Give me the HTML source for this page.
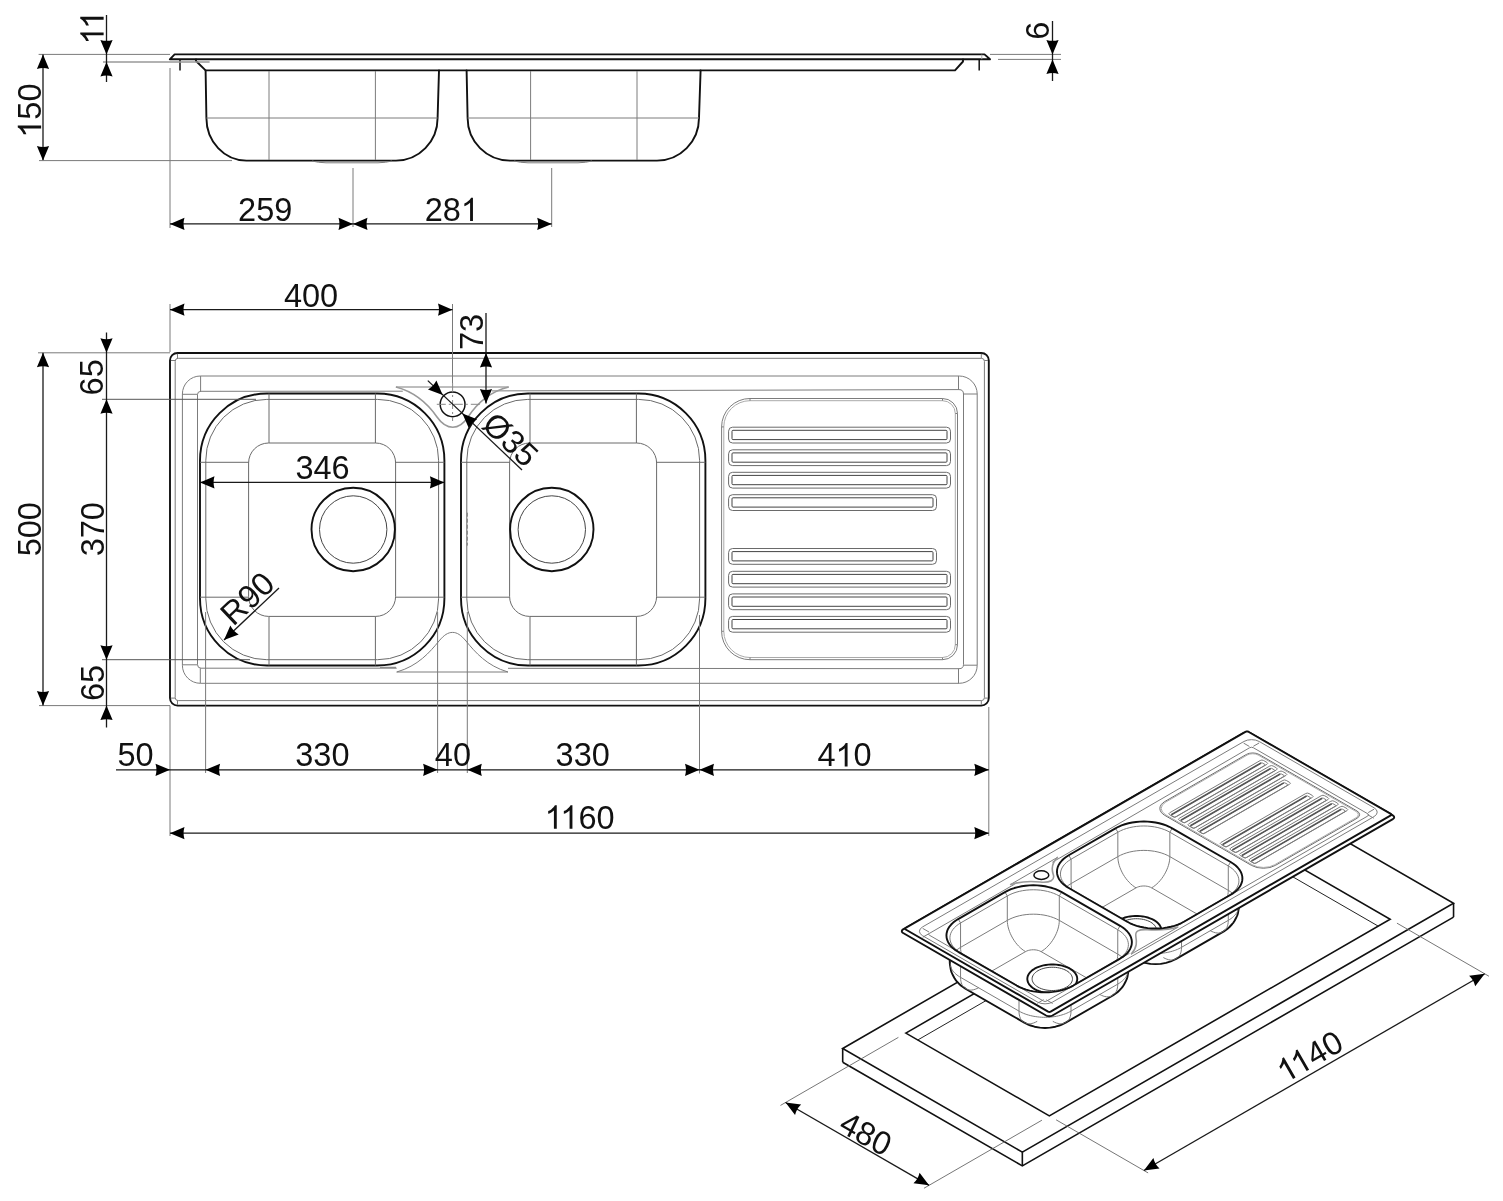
<!DOCTYPE html>
<html><head><meta charset="utf-8"><style>
html,body{margin:0;padding:0;background:#fff;}
svg{display:block;will-change:transform;}
text{font-family:"Liberation Sans",sans-serif;fill:#111;}
.k{fill:none;stroke:#111;stroke-width:1.9;stroke-linejoin:round;stroke-linecap:round;}
.kt{fill:none;stroke:#111;stroke-width:1.5;stroke-linejoin:round;}
.g{fill:none;stroke:#7c7c7c;stroke-width:1;}
.g2{fill:none;stroke:#6a6a6a;stroke-width:1;}
.gd{fill:none;stroke:#444;stroke-width:1;}
.gl{fill:none;stroke:#aaa;stroke-width:1;}
.d{fill:none;stroke:#1a1a1a;stroke-width:1.3;}
.e{fill:none;stroke:#7a7a7a;stroke-width:1;}
.e2{fill:none;stroke:#555;stroke-width:1;}
.e3{fill:none;stroke:#999;stroke-width:1.6;}
.ar{fill:#000;stroke:none;}
.tx{fill:#111;stroke:none;}
.cl{fill:none;stroke:#888;stroke-width:1;stroke-dasharray:9 3 2 3;}
.ik{fill:none;stroke:#111;stroke-width:1.9;stroke-linejoin:round;}
.ikf{fill:#fff;stroke:#111;stroke-width:1.9;stroke-linejoin:round;}
.it{fill:none;stroke:#222;stroke-width:1;}
.ie{fill:none;stroke:#666;stroke-width:0.9;}
.ns *{vector-effect:non-scaling-stroke;}
.rb{fill:none;stroke:#555;stroke-width:1.6;}
.tl{fill:none;stroke:#999;stroke-width:1.6;}
.sk{fill:none;stroke:#111;stroke-width:1.6;stroke-linejoin:miter;}
</style></head><body>
<svg width="1503" height="1201" viewBox="0 0 1503 1201">
<path d="M174.6,54.4 H984.5 L990,59.3 H169.8 Z" class="k"/>
<line x1="180" y1="59.4" x2="180" y2="70.4" class="kt"/>
<line x1="979.2" y1="59.3" x2="979.2" y2="70.5" class="kt"/>
<line x1="981.8" y1="54.6" x2="981.8" y2="59.2" class="gl"/>
<path d="M196,59.4 V61 L205.6,70.4 H955 L963,61.5 V59.4" class="k"/>
<path d="M205.6,70.4 L206.4,118 A40,42.6 0 0 0 246.4,160.6 H396 A41.6,42.6 0 0 0 437.6,118 L439,70.4" class="k"/>
<path d="M466.6,70.4 L467.6,118 A42.4,42.6 0 0 0 510,160.6 H657 A42,42.6 0 0 0 699,118 L700.6,70.4" class="k"/>
<line x1="269" y1="71" x2="269" y2="160" class="g"/>
<line x1="375.4" y1="71" x2="375.4" y2="160" class="g"/>
<line x1="530.6" y1="71" x2="530.6" y2="160" class="g"/>
<line x1="637" y1="71" x2="637" y2="160" class="g"/>
<line x1="206.4" y1="118" x2="437.6" y2="118" class="g"/>
<line x1="467.6" y1="118" x2="699" y2="118" class="g"/>
<path d="M312,161 Q318,162.6 326,162.8 H378 Q386,162.6 392,161" class="g"/>
<path d="M514,161 Q520,162.6 528,162.8 H578 Q586,162.6 592,161" class="g"/>
<line x1="38.6" y1="54.4" x2="170" y2="54.4" class="e"/>
<line x1="103" y1="62" x2="209.6" y2="62" class="e3"/>
<line x1="106.5" y1="15" x2="106.5" y2="82" class="d"/>
<path d="M0,0 L-14.5,-6.1 Q-12.6,0 -14.5,6.1 Z" class="ar" transform="translate(106.5,54.4) rotate(90)"/>
<path d="M0,0 L-14.5,-6.1 Q-12.6,0 -14.5,6.1 Z" class="ar" transform="translate(106.5,62) rotate(-90)"/>
<g transform="translate(92,27.7) rotate(-90)"><path d="M763,0 L583,0 L583,1147 Q518,1085 465,1054 Q412,1023 359,992 Q306,961 222,930 L222,1104 Q373,1175 429.5,1225.5 Q486,1276 542.5,1326.5 Q599,1377 646,1472 L763,1472 Z" transform="translate(-16.87,11.63) scale(0.01587,-0.01587)" class="tx"/><path d="M763,0 L583,0 L583,1147 Q518,1085 465,1054 Q412,1023 359,992 Q306,961 222,930 L222,1104 Q373,1175 429.5,1225.5 Q486,1276 542.5,1326.5 Q599,1377 646,1472 L763,1472 Z" transform="translate(-1.21,11.63) scale(0.01587,-0.01587)" class="tx"/></g>
<line x1="43" y1="54.4" x2="43" y2="160.6" class="d"/>
<path d="M0,0 L-14.5,-6.1 Q-12.6,0 -14.5,6.1 Z" class="ar" transform="translate(43,54.4) rotate(-90)"/>
<path d="M0,0 L-14.5,-6.1 Q-12.6,0 -14.5,6.1 Z" class="ar" transform="translate(43,160.6) rotate(90)"/>
<line x1="39" y1="160.6" x2="232" y2="160.6" class="e"/>
<g transform="translate(29.5,110.6) rotate(-90)"><path d="M763,0 L583,0 L583,1147 Q518,1085 465,1054 Q412,1023 359,992 Q306,961 222,930 L222,1104 Q373,1175 429.5,1225.5 Q486,1276 542.5,1326.5 Q599,1377 646,1472 L763,1472 Z" transform="translate(-27.11,11.63) scale(0.01587,-0.01587)" class="tx"/><text x="-9.04 9.04" y="11.63" font-size="32.5">50</text></g>
<line x1="990" y1="54.4" x2="1061" y2="54.4" class="e"/>
<line x1="998" y1="59.4" x2="1061" y2="59.4" class="e"/>
<line x1="1052.5" y1="21" x2="1052.5" y2="81" class="d"/>
<path d="M0,0 L-14.5,-6.1 Q-12.6,0 -14.5,6.1 Z" class="ar" transform="translate(1052.5,54.4) rotate(90)"/>
<path d="M0,0 L-14.5,-6.1 Q-12.6,0 -14.5,6.1 Z" class="ar" transform="translate(1052.5,59.4) rotate(-90)"/>
<text x="0" y="11.63" font-size="32.5" text-anchor="middle" transform="translate(1037.7,30.7) rotate(-90)">6</text>
<line x1="170" y1="68" x2="170" y2="228" class="e"/>
<line x1="353" y1="168" x2="353" y2="227" class="e"/>
<line x1="551.7" y1="168" x2="551.7" y2="227" class="e"/>
<line x1="170" y1="223.9" x2="551.7" y2="223.9" class="d"/>
<path d="M0,0 L-14.5,-6.1 Q-12.6,0 -14.5,6.1 Z" class="ar" transform="translate(170,223.9) rotate(180)"/>
<path d="M0,0 L-14.5,-6.1 Q-12.6,0 -14.5,6.1 Z" class="ar" transform="translate(353,223.9) rotate(0)"/>
<path d="M0,0 L-14.5,-6.1 Q-12.6,0 -14.5,6.1 Z" class="ar" transform="translate(353,223.9) rotate(180)"/>
<path d="M0,0 L-14.5,-6.1 Q-12.6,0 -14.5,6.1 Z" class="ar" transform="translate(551.7,223.9) rotate(0)"/>
<text x="0" y="11.63" font-size="32.5" text-anchor="middle" transform="translate(265.2,209.4) rotate(0)">259</text>
<g transform="translate(451.8,209.4) rotate(0)"><path d="M763,0 L583,0 L583,1147 Q518,1085 465,1054 Q412,1023 359,992 Q306,961 222,930 L222,1104 Q373,1175 429.5,1225.5 Q486,1276 542.5,1326.5 Q599,1377 646,1472 L763,1472 Z" transform="translate(9.04,11.63) scale(0.01587,-0.01587)" class="tx"/><text x="-27.11 -9.04" y="11.63" font-size="32.5">28</text></g>
<path d="M177.5,353 H981.3 A7.5,7.5 0 0 1 988.8,360.5 V698.1 A7.5,7.5 0 0 1 981.3,705.6 H177.5 A7.5,7.5 0 0 1 170,698.1 V360.5 A7.5,7.5 0 0 1 177.5,353 Z" class="k"/>
<path d="M178.2,358.3 H981.4 A3,3 0 0 1 984.4,361.3 V697.6 A3,3 0 0 1 981.4,700.6 H178.2 A3,3 0 0 1 175.2,697.6 V361.3 A3,3 0 0 1 178.2,358.3 Z" class="g"/>
<path d="M170.8,360.5 H175.2 M177.5,353.8 V358.3 M981.3,353.8 V358.3 M984.4,360.5 H988 M170.8,698.1 H175.2 M177.5,700.6 V704.8 M981.3,700.6 V704.8 M984.4,698.1 H988" class="g"/>
<path d="M200.4,376 H959.2 A18,18 0 0 1 977.2,394 V665.3 A18,18 0 0 1 959.2,683.3 H200.4 A18,18 0 0 1 182.4,665.3 V394 A18,18 0 0 1 200.4,376 Z" class="g"/>
<path d="M402.8,391.2 L201,391.3 Q197.5,391.3 197.5,394.5 V664.5 Q197.5,668.2 201,668.2 L396.7,668.2 M508,668.3 L959,668.7 Q963.5,668.7 963.5,664.5 V394 Q963.5,389.6 959,389.6 L492,390.9" class="g"/>
<line x1="200.6" y1="376" x2="200.6" y2="391.3" class="g"/>
<line x1="182.4" y1="394.3" x2="197.5" y2="394.3" class="g"/>
<line x1="200.3" y1="668.2" x2="200.3" y2="683.3" class="g"/>
<line x1="182.4" y1="664.8" x2="197.5" y2="664.8" class="g"/>
<line x1="958.5" y1="376" x2="958.5" y2="389.6" class="g"/>
<line x1="963.5" y1="394" x2="977.2" y2="394" class="g"/>
<line x1="958.5" y1="668.7" x2="958.5" y2="683.3" class="g"/>
<line x1="963.5" y1="665.2" x2="977.2" y2="665.2" class="g"/>
<path d="M267,393.5 H377.4 A67,67 0 0 1 444.4,460.5 V598.5 A67,67 0 0 1 377.4,665.5 H267 A67,67 0 0 1 200,598.5 V460.5 A67,67 0 0 1 267,393.5 Z" class="k"/>
<path d="M266.8,399.4 H377.6 A61,61 0 0 1 438.6,460.4 V598.7 A61,61 0 0 1 377.6,659.7 H266.8 A61,61 0 0 1 205.8,598.7 V460.4 A61,61 0 0 1 266.8,399.4 Z" class="g2"/>
<path d="M268.6,443 H375.6 A20,20 0 0 1 395.6,463 V596.4 A20,20 0 0 1 375.6,616.4 H268.6 A20,20 0 0 1 248.6,596.4 V463 A20,20 0 0 1 268.6,443 Z" class="g2"/>
<line x1="269" y1="393.5" x2="269" y2="443" class="g2"/>
<line x1="269" y1="616.4" x2="269" y2="665.5" class="g2"/>
<line x1="375.4" y1="393.5" x2="375.4" y2="443" class="g2"/>
<line x1="375.4" y1="616.4" x2="375.4" y2="665.5" class="g2"/>
<line x1="200" y1="462.3" x2="248.6" y2="462.3" class="g2"/>
<line x1="395.6" y1="462.3" x2="444.4" y2="462.3" class="g2"/>
<line x1="200" y1="597.2" x2="248.6" y2="597.2" class="g2"/>
<line x1="395.6" y1="597.2" x2="444.4" y2="597.2" class="g2"/>
<path d="M528,393.5 H638.4 A67,67 0 0 1 705.4,460.5 V598.5 A67,67 0 0 1 638.4,665.5 H528 A67,67 0 0 1 461,598.5 V460.5 A67,67 0 0 1 528,393.5 Z" class="k"/>
<path d="M527.8,399.4 H638.6 A61,61 0 0 1 699.6,460.4 V598.7 A61,61 0 0 1 638.6,659.7 H527.8 A61,61 0 0 1 466.8,598.7 V460.4 A61,61 0 0 1 527.8,399.4 Z" class="g2"/>
<path d="M529.6,443 H636.6 A20,20 0 0 1 656.6,463 V596.4 A20,20 0 0 1 636.6,616.4 H529.6 A20,20 0 0 1 509.6,596.4 V463 A20,20 0 0 1 529.6,443 Z" class="g2"/>
<line x1="530" y1="393.5" x2="530" y2="443" class="g2"/>
<line x1="530" y1="616.4" x2="530" y2="665.5" class="g2"/>
<line x1="636.4" y1="393.5" x2="636.4" y2="443" class="g2"/>
<line x1="636.4" y1="616.4" x2="636.4" y2="665.5" class="g2"/>
<line x1="461" y1="462.3" x2="509.6" y2="462.3" class="g2"/>
<line x1="656.6" y1="462.3" x2="705.4" y2="462.3" class="g2"/>
<line x1="461" y1="597.2" x2="509.6" y2="597.2" class="g2"/>
<line x1="656.6" y1="597.2" x2="705.4" y2="597.2" class="g2"/>
<circle cx="353.2" cy="529.5" r="41.7" class="k"/>
<circle cx="353.2" cy="529.5" r="33.7" class="gd"/>
<circle cx="551.8" cy="529.5" r="41.7" class="k"/>
<circle cx="551.8" cy="529.5" r="33.7" class="gd"/>
<path d="M750,398.5 H942.5 A15,15 0 0 1 957.5,413.5 V644.7 A15,15 0 0 1 942.5,659.7 H750 A28.4,28.4 0 0 1 721.6,631.3 V426.9 A28.4,28.4 0 0 1 750,398.5 Z" class="g"/>
<path d="M750,400.7 H942.5 A12.8,12.8 0 0 1 955.3,413.5 V644.7 A12.8,12.8 0 0 1 942.5,657.5 H750 A26.2,26.2 0 0 1 723.8,631.3 V426.9 A26.2,26.2 0 0 1 750,400.7 Z" class="gl"/>
<line x1="750" y1="398.5" x2="750" y2="400.7" class="g"/>
<line x1="942.5" y1="398.5" x2="942.5" y2="400.7" class="g"/>
<line x1="750" y1="657.5" x2="750" y2="659.7" class="g"/>
<line x1="942.5" y1="657.5" x2="942.5" y2="659.7" class="g"/>
<line x1="721.6" y1="426.9" x2="723.8" y2="426.9" class="g"/>
<line x1="721.6" y1="631.3" x2="723.8" y2="631.3" class="g"/>
<line x1="955.3" y1="413.5" x2="957.5" y2="413.5" class="g"/>
<line x1="955.3" y1="644.7" x2="957.5" y2="644.7" class="g"/>
<path d="M732.6,427.2 H946.5 A4,4 0 0 1 950.5,431.2 V439 A4,4 0 0 1 946.5,443 H732.6 A4,4 0 0 1 728.6,439 V431.2 A4,4 0 0 1 732.6,427.2 Z" class="g2"/>
<path d="M733,430.3 H946 A1,1 0 0 1 947,431.3 V438.6 A1,1 0 0 1 946,439.6 H733 A1,1 0 0 1 732,438.6 V431.3 A1,1 0 0 1 733,430.3 Z" class="gd"/>
<path d="M732.6,449.8 H946.5 A4,4 0 0 1 950.5,453.8 V461.6 A4,4 0 0 1 946.5,465.6 H732.6 A4,4 0 0 1 728.6,461.6 V453.8 A4,4 0 0 1 732.6,449.8 Z" class="g2"/>
<path d="M733,452.9 H946 A1,1 0 0 1 947,453.9 V461.2 A1,1 0 0 1 946,462.2 H733 A1,1 0 0 1 732,461.2 V453.9 A1,1 0 0 1 733,452.9 Z" class="gd"/>
<path d="M732.6,472.3 H946.5 A4,4 0 0 1 950.5,476.3 V484.1 A4,4 0 0 1 946.5,488.1 H732.6 A4,4 0 0 1 728.6,484.1 V476.3 A4,4 0 0 1 732.6,472.3 Z" class="g2"/>
<path d="M733,475.4 H946 A1,1 0 0 1 947,476.4 V483.7 A1,1 0 0 1 946,484.7 H733 A1,1 0 0 1 732,483.7 V476.4 A1,1 0 0 1 733,475.4 Z" class="gd"/>
<path d="M732.6,494.7 H932.5 A4,4 0 0 1 936.5,498.7 V506.5 A4,4 0 0 1 932.5,510.5 H732.6 A4,4 0 0 1 728.6,506.5 V498.7 A4,4 0 0 1 732.6,494.7 Z" class="g2"/>
<path d="M733,497.8 H932 A1,1 0 0 1 933,498.8 V506.1 A1,1 0 0 1 932,507.1 H733 A1,1 0 0 1 732,506.1 V498.8 A1,1 0 0 1 733,497.8 Z" class="gd"/>
<path d="M732.6,548.5 H932.5 A4,4 0 0 1 936.5,552.5 V560.3 A4,4 0 0 1 932.5,564.3 H732.6 A4,4 0 0 1 728.6,560.3 V552.5 A4,4 0 0 1 732.6,548.5 Z" class="g2"/>
<path d="M733,551.6 H932 A1,1 0 0 1 933,552.6 V559.9 A1,1 0 0 1 932,560.9 H733 A1,1 0 0 1 732,559.9 V552.6 A1,1 0 0 1 733,551.6 Z" class="gd"/>
<path d="M732.6,571.3 H946.5 A4,4 0 0 1 950.5,575.3 V583.1 A4,4 0 0 1 946.5,587.1 H732.6 A4,4 0 0 1 728.6,583.1 V575.3 A4,4 0 0 1 732.6,571.3 Z" class="g2"/>
<path d="M733,574.4 H946 A1,1 0 0 1 947,575.4 V582.7 A1,1 0 0 1 946,583.7 H733 A1,1 0 0 1 732,582.7 V575.4 A1,1 0 0 1 733,574.4 Z" class="gd"/>
<path d="M732.6,593.9 H946.5 A4,4 0 0 1 950.5,597.9 V605.7 A4,4 0 0 1 946.5,609.7 H732.6 A4,4 0 0 1 728.6,605.7 V597.9 A4,4 0 0 1 732.6,593.9 Z" class="g2"/>
<path d="M733,597 H946 A1,1 0 0 1 947,598 V605.3 A1,1 0 0 1 946,606.3 H733 A1,1 0 0 1 732,605.3 V598 A1,1 0 0 1 733,597 Z" class="gd"/>
<path d="M732.6,616.4 H946.5 A4,4 0 0 1 950.5,620.4 V628.2 A4,4 0 0 1 946.5,632.2 H732.6 A4,4 0 0 1 728.6,628.2 V620.4 A4,4 0 0 1 732.6,616.4 Z" class="g2"/>
<path d="M733,619.5 H946 A1,1 0 0 1 947,620.5 V627.8 A1,1 0 0 1 946,628.8 H733 A1,1 0 0 1 732,627.8 V620.5 A1,1 0 0 1 733,619.5 Z" class="gd"/>
<path d="M395.9,387 H508.7" class="g"/>
<path d="M395.9,387 C415,392 428,404 437,417 C443,425.5 448,427.3 452.8,427.3 C458,427.3 463,424.5 468,417 C478,402 492,391 508.7,387" class="tl"/>
<circle cx="452.6" cy="404.3" r="12.4" class="kt"/>
<line x1="436.8" y1="404.3" x2="482.6" y2="404.3" class="cl"/>
<line x1="452.6" y1="383" x2="452.6" y2="421" class="cl"/>
<path d="M396.7,672 H508" class="g"/>
<path d="M396.7,672 C418,666 430,652 439,641 C444,635 448,632.4 452.6,632.4 C457,632.4 461,635 466,641 C475,652 487,666 508,672" class="g"/>
<line x1="467.3" y1="512.7" x2="467.3" y2="545.6" class="g" stroke-dasharray="4 2"/>
<line x1="380" y1="667.3" x2="396" y2="667.3" class="g"/>
<line x1="38" y1="352.8" x2="170" y2="352.8" class="e"/>
<line x1="102" y1="399.3" x2="256" y2="399.3" class="e2"/>
<line x1="102" y1="659.7" x2="250" y2="659.7" class="e2"/>
<line x1="39" y1="705.6" x2="170" y2="705.6" class="e"/>
<line x1="106.5" y1="332.4" x2="106.5" y2="727.5" class="d"/>
<path d="M0,0 L-14.5,-6.1 Q-12.6,0 -14.5,6.1 Z" class="ar" transform="translate(106.5,352.8) rotate(90)"/>
<path d="M0,0 L-14.5,-6.1 Q-12.6,0 -14.5,6.1 Z" class="ar" transform="translate(106.5,399.3) rotate(-90)"/>
<path d="M0,0 L-14.5,-6.1 Q-12.6,0 -14.5,6.1 Z" class="ar" transform="translate(106.5,659.7) rotate(90)"/>
<path d="M0,0 L-14.5,-6.1 Q-12.6,0 -14.5,6.1 Z" class="ar" transform="translate(106.5,705.6) rotate(-90)"/>
<line x1="43" y1="352.8" x2="43" y2="705.6" class="d"/>
<path d="M0,0 L-14.5,-6.1 Q-12.6,0 -14.5,6.1 Z" class="ar" transform="translate(43,352.8) rotate(-90)"/>
<path d="M0,0 L-14.5,-6.1 Q-12.6,0 -14.5,6.1 Z" class="ar" transform="translate(43,705.6) rotate(90)"/>
<text x="0" y="11.63" font-size="32.5" text-anchor="middle" transform="translate(91.75,377.35) rotate(-90)">65</text>
<text x="0" y="11.63" font-size="32.5" text-anchor="middle" transform="translate(92,529.2) rotate(-90)">370</text>
<text x="0" y="11.63" font-size="32.5" text-anchor="middle" transform="translate(92,683) rotate(-90)">65</text>
<text x="0" y="11.63" font-size="32.5" text-anchor="middle" transform="translate(29,529.2) rotate(-90)">500</text>
<line x1="170" y1="304" x2="170" y2="352" class="e"/>
<line x1="452.5" y1="304" x2="452.5" y2="383" class="e"/>
<line x1="170" y1="309.7" x2="452.5" y2="309.7" class="d"/>
<path d="M0,0 L-14.5,-6.1 Q-12.6,0 -14.5,6.1 Z" class="ar" transform="translate(170,309.7) rotate(180)"/>
<path d="M0,0 L-14.5,-6.1 Q-12.6,0 -14.5,6.1 Z" class="ar" transform="translate(452.5,309.7) rotate(0)"/>
<text x="0" y="11.63" font-size="32.5" text-anchor="middle" transform="translate(311,295) rotate(0)">400</text>
<line x1="486" y1="313" x2="486" y2="403.5" class="d"/>
<path d="M0,0 L-14.5,-6.1 Q-12.6,0 -14.5,6.1 Z" class="ar" transform="translate(486,353) rotate(-90)"/>
<path d="M0,0 L-14.5,-6.1 Q-12.6,0 -14.5,6.1 Z" class="ar" transform="translate(486,403.5) rotate(90)"/>
<text x="0" y="11.63" font-size="32.5" text-anchor="middle" transform="translate(471.6,331.9) rotate(-90)">73</text>
<line x1="200" y1="482.4" x2="444.4" y2="482.4" class="d"/>
<path d="M0,0 L-14.5,-6.1 Q-12.6,0 -14.5,6.1 Z" class="ar" transform="translate(200,482.4) rotate(180)"/>
<path d="M0,0 L-14.5,-6.1 Q-12.6,0 -14.5,6.1 Z" class="ar" transform="translate(444.4,482.4) rotate(0)"/>
<text x="0" y="11.63" font-size="32.5" text-anchor="middle" transform="translate(322.5,467.8) rotate(0)">346</text>
<line x1="224" y1="640" x2="279" y2="588" class="d"/>
<path d="M0,0 L-14.5,-6.1 Q-12.6,0 -14.5,6.1 Z" class="ar" transform="translate(224,640) rotate(136.6)"/>
<text x="0" y="11.63" font-size="32.5" text-anchor="middle" transform="translate(247,598) rotate(-43.4)">R90</text>
<line x1="427.8" y1="380.6" x2="522" y2="470" class="d"/>
<path d="M0,0 L-14.5,-6.1 Q-12.6,0 -14.5,6.1 Z" class="ar" transform="translate(442.7,395) rotate(43.5)"/>
<path d="M0,0 L-14.5,-6.1 Q-12.6,0 -14.5,6.1 Z" class="ar" transform="translate(462.4,413.6) rotate(223.5)"/>
<text x="0" y="11.63" font-size="32.5" text-anchor="middle" transform="translate(510.9,439.1) rotate(43.5)">Ø35</text>
<line x1="170" y1="705.6" x2="170" y2="836" class="e"/>
<line x1="205.6" y1="612" x2="205.6" y2="773" class="e"/>
<line x1="437.6" y1="612" x2="437.6" y2="773" class="e"/>
<line x1="467.3" y1="612" x2="467.3" y2="773" class="e"/>
<line x1="699.5" y1="615" x2="699.5" y2="773.5" class="e"/>
<line x1="988.8" y1="707" x2="988.8" y2="836" class="e"/>
<line x1="116" y1="769.8" x2="988.8" y2="769.8" class="d"/>
<path d="M0,0 L-14.5,-6.1 Q-12.6,0 -14.5,6.1 Z" class="ar" transform="translate(170,769.8) rotate(0)"/>
<path d="M0,0 L-14.5,-6.1 Q-12.6,0 -14.5,6.1 Z" class="ar" transform="translate(205.6,769.8) rotate(180)"/>
<path d="M0,0 L-14.5,-6.1 Q-12.6,0 -14.5,6.1 Z" class="ar" transform="translate(437.6,769.8) rotate(0)"/>
<path d="M0,0 L-14.5,-6.1 Q-12.6,0 -14.5,6.1 Z" class="ar" transform="translate(467.3,769.8) rotate(180)"/>
<path d="M0,0 L-14.5,-6.1 Q-12.6,0 -14.5,6.1 Z" class="ar" transform="translate(699.5,769.8) rotate(0)"/>
<path d="M0,0 L-14.5,-6.1 Q-12.6,0 -14.5,6.1 Z" class="ar" transform="translate(699.5,769.8) rotate(180)"/>
<path d="M0,0 L-14.5,-6.1 Q-12.6,0 -14.5,6.1 Z" class="ar" transform="translate(988.8,769.8) rotate(0)"/>
<text x="0" y="11.63" font-size="32.5" text-anchor="middle" transform="translate(135.5,754.8) rotate(0)">50</text>
<text x="0" y="11.63" font-size="32.5" text-anchor="middle" transform="translate(322.4,754.8) rotate(0)">330</text>
<text x="0" y="11.63" font-size="32.5" text-anchor="middle" transform="translate(452.9,754.8) rotate(0)">40</text>
<text x="0" y="11.63" font-size="32.5" text-anchor="middle" transform="translate(582.7,754.8) rotate(0)">330</text>
<g transform="translate(844.5,754.8) rotate(0)"><path d="M763,0 L583,0 L583,1147 Q518,1085 465,1054 Q412,1023 359,992 Q306,961 222,930 L222,1104 Q373,1175 429.5,1225.5 Q486,1276 542.5,1326.5 Q599,1377 646,1472 L763,1472 Z" transform="translate(-9.04,11.63) scale(0.01587,-0.01587)" class="tx"/><text x="-27.11 9.04" y="11.63" font-size="32.5">40</text></g>
<line x1="170" y1="833.2" x2="988.8" y2="833.2" class="d"/>
<path d="M0,0 L-14.5,-6.1 Q-12.6,0 -14.5,6.1 Z" class="ar" transform="translate(170,833.2) rotate(180)"/>
<path d="M0,0 L-14.5,-6.1 Q-12.6,0 -14.5,6.1 Z" class="ar" transform="translate(988.8,833.2) rotate(0)"/>
<g transform="translate(579.6,817) rotate(0)"><path d="M763,0 L583,0 L583,1147 Q518,1085 465,1054 Q412,1023 359,992 Q306,961 222,930 L222,1104 Q373,1175 429.5,1225.5 Q486,1276 542.5,1326.5 Q599,1377 646,1472 L763,1472 Z" transform="translate(-34.94,11.63) scale(0.01587,-0.01587)" class="tx"/><path d="M763,0 L583,0 L583,1147 Q518,1085 465,1054 Q412,1023 359,992 Q306,961 222,930 L222,1104 Q373,1175 429.5,1225.5 Q486,1276 542.5,1326.5 Q599,1377 646,1472 L763,1472 Z" transform="translate(-19.28,11.63) scale(0.01587,-0.01587)" class="tx"/><text x="-1.21 16.87" y="11.63" font-size="32.5">60</text></g>
<path d="M842.69,1048.48 L1273.9,799.65 L1453.55,903.31 L1022.34,1152.14 Z" class="sk"/>
<path d="M842.69,1062.26 L1022.34,1165.93 L1453.55,917.1" class="sk"/>
<line x1="842.69" y1="1048.48" x2="842.69" y2="1062.26" class="sk"/>
<line x1="1022.34" y1="1152.14" x2="1022.34" y2="1165.93" class="sk"/>
<line x1="1453.55" y1="903.31" x2="1453.55" y2="917.1" class="sk"/>
<path d="M905.82,1033.09 L1246.65,836.42 L1390.17,919.24 L1049.34,1115.91 Z" class="sk"/>
<path d="M917.76,1039.99 L1246.65,850.2 L1378.23,926.13" class="it"/>
<line x1="898.4" y1="1037.37" x2="780.46" y2="1105.43" class="ie"/>
<line x1="1041.93" y1="1120.19" x2="923.98" y2="1188.25" class="ie"/>
<line x1="785.54" y1="1102.5" x2="929.07" y2="1185.32" class="d"/>
<path d="M0,0 L-14.5,-6.1 Q-12.6,0 -14.5,6.1 Z" class="ar" transform="translate(785.54,1102.5) rotate(209.99)"/>
<path d="M0,0 L-14.5,-6.1 Q-12.6,0 -14.5,6.1 Z" class="ar" transform="translate(929.07,1185.32) rotate(29.99)"/>
<line x1="1056.12" y1="1119.82" x2="1148.12" y2="1172.91" class="ie"/>
<line x1="1396.95" y1="923.15" x2="1488.95" y2="976.24" class="ie"/>
<line x1="1143.89" y1="1170.47" x2="1484.72" y2="973.79" class="d"/>
<path d="M0,0 L-14.5,-6.1 Q-12.6,0 -14.5,6.1 Z" class="ar" transform="translate(1143.89,1170.47) rotate(150.01)"/>
<path d="M0,0 L-14.5,-6.1 Q-12.6,0 -14.5,6.1 Z" class="ar" transform="translate(1484.72,973.79) rotate(-29.99)"/>
<text x="0" y="11.63" font-size="32.5" text-anchor="middle" transform="translate(866,1133.2) rotate(30) skewX(4)">480</text>
<g transform="translate(1309.5,1056) rotate(-30)"><path d="M763,0 L583,0 L583,1147 Q518,1085 465,1054 Q412,1023 359,992 Q306,961 222,930 L222,1104 Q373,1175 429.5,1225.5 Q486,1276 542.5,1326.5 Q599,1377 646,1472 L763,1472 Z" transform="translate(-34.94,11.63) scale(0.01587,-0.01587)" class="tx"/><path d="M763,0 L583,0 L583,1147 Q518,1085 465,1054 Q412,1023 359,992 Q306,961 222,930 L222,1104 Q373,1175 429.5,1225.5 Q486,1276 542.5,1326.5 Q599,1377 646,1472 L763,1472 Z" transform="translate(-19.28,11.63) scale(0.01587,-0.01587)" class="tx"/><text x="-1.21 16.87" y="11.63" font-size="32.5">40</text></g>
<clipPath id="bx0"><path d="M1060.32,874.1 L1061.02,869.96 L1063.12,865.98 L1066.51,862.31 L1071.09,859.1 L1117.84,832.12 L1123.41,829.48 L1129.77,827.52 L1136.67,826.31 L1143.84,825.9 L1151.02,826.31 L1157.92,827.52 L1164.27,829.48 L1169.85,832.12 L1228.29,865.84 L1232.86,869.06 L1236.26,872.73 L1238.35,876.71 L1239.06,880.85 L1239.06,905.34 L1238.94,907.37 L1238.23,911.49 L1237.87,913.46 L1237.27,915.37 L1236.43,917.19 L1234.45,920.96 L1233.45,922.56 L1232.25,924.01 L1229.25,927.25 L1228,928.4 L1224.16,931.1 L1222.96,931.92 L1176.2,958.9 L1171.77,961 L1170.73,961.46 L1166,962.92 L1160.87,963.82 L1160.47,963.88 L1155.53,964.16 L1150.59,963.88 L1150.2,963.82 L1145.06,962.92 L1140.33,961.46 L1139.29,961 L1134.86,958.9 L1076.42,925.17 L1075.22,924.36 L1071.37,921.66 L1070.12,920.5 L1067.13,917.27 L1065.92,915.81 L1064.93,914.21 L1062.95,910.44 L1062.11,908.62 L1061.51,906.72 L1061.14,904.75 L1060.44,900.62 L1060.32,898.59 Z"/></clipPath>
<path d="M1060.32,874.1 L1061.02,869.96 L1063.12,865.98 L1066.51,862.31 L1071.09,859.1 L1117.84,832.12 L1123.41,829.48 L1129.77,827.52 L1136.67,826.31 L1143.84,825.9 L1151.02,826.31 L1157.92,827.52 L1164.27,829.48 L1169.85,832.12 L1228.29,865.84 L1232.86,869.06 L1236.26,872.73 L1238.35,876.71 L1239.06,880.85 L1239.06,905.34 L1238.94,907.37 L1238.23,911.49 L1237.87,913.46 L1237.27,915.37 L1236.43,917.19 L1234.45,920.96 L1233.45,922.56 L1232.25,924.01 L1229.25,927.25 L1228,928.4 L1224.16,931.1 L1222.96,931.92 L1176.2,958.9 L1171.77,961 L1170.73,961.46 L1166,962.92 L1160.87,963.82 L1160.47,963.88 L1155.53,964.16 L1150.59,963.88 L1150.2,963.82 L1145.06,962.92 L1140.33,961.46 L1139.29,961 L1134.86,958.9 L1076.42,925.17 L1075.22,924.36 L1071.37,921.66 L1070.12,920.5 L1067.13,917.27 L1065.92,915.81 L1064.93,914.21 L1062.95,910.44 L1062.11,908.62 L1061.51,906.72 L1061.14,904.75 L1060.44,900.62 L1060.32,898.59 Z" class="ikf"/>
<path d="M1239.06,905.15 L1239.03,906.26 L1238.89,907.37 L1238.66,908.47 L1238.32,909.57 L1237.89,910.65 L1237.36,911.72 L1236.73,912.77 L1236.01,913.8 L1235.2,914.81 L1234.29,915.79 L1233.3,916.74 L1232.23,917.66 L1231.07,918.55 L1229.83,919.4 L1228.52,920.21 L1180.38,947.96 L1178.92,948.69 L1177.41,949.37 L1175.83,950.01 L1174.2,950.6 L1172.51,951.14 L1170.78,951.63 L1169.01,952.06 L1167.2,952.44 L1165.36,952.76 L1163.49,953.03 L1161.6,953.25 L1159.7,953.4 L1157.78,953.5 L1155.85,953.54 L1153.93,953.52 L1152.01,953.44 L1150.1,953.3 L1148.2,953.11 L1146.33,952.86 L1144.47,952.55 L1142.65,952.19 L1140.87,951.78 L1139.12,951.31 L1137.42,950.79 L1135.77,950.21 L1134.18,949.59 L1132.64,948.92 L1131.17,948.21 L1129.76,947.45 L1069.98,912.93 L1068.71,912.09 L1067.53,911.21 L1066.42,910.3 L1065.4,909.36 L1064.47,908.39 L1063.63,907.39 L1062.87,906.37 L1062.22,905.33 L1061.65,904.26 L1061.19,903.18 L1060.82,902.09 L1060.55,900.99 L1060.38,899.89 L1060.32,898.78 M1181.54,922.83 L1181.54,947.32 L1181.45,949.3 L1181.19,951.16 L1180.75,952.89 L1180.15,954.45 L1179.39,955.85 L1178.47,957.06 L1177.4,958.08 L1176.2,958.9 L1174.88,959.5 L1173.44,959.88 L1171.91,960.04 L1170.29,959.98 L1168.61,959.7 L1166.88,959.19 L1165.11,958.47 L1163.33,957.54 M1228.29,895.85 L1228.29,920.34 L1228.2,922.32 L1227.94,924.18 L1227.51,925.91 L1226.9,927.47 L1226.14,928.87 L1225.22,930.09 L1224.16,931.1 L1222.96,931.92 L1221.63,932.52 L1220.2,932.9 L1218.66,933.07 L1217.05,933 L1215.37,932.72 L1213.63,932.21 L1211.86,931.49 L1210.08,930.56 M1071.09,889.11 L1071.09,913.6 L1071.17,915.58 L1071.44,917.44 L1071.87,919.16 L1072.47,920.73 L1073.24,922.13 L1074.16,923.34 L1075.22,924.36 L1076.42,925.17 L1077.74,925.78 L1079.18,926.16 L1080.71,926.32 L1082.33,926.26 L1084.01,925.97 L1085.74,925.47 L1087.51,924.74 L1089.3,923.81 M1129.53,922.83 L1129.53,947.32 L1129.62,949.3 L1129.88,951.16 L1130.31,952.89 L1130.92,954.45 L1131.68,955.85 L1132.6,957.06 L1133.66,958.08 L1134.86,958.9 L1136.19,959.5 L1137.62,959.88 L1139.16,960.04 L1140.77,959.98 L1142.45,959.7 L1144.19,959.19 L1145.96,958.47 L1147.74,957.54" class="g" clip-path="url(#bx0)"/>
<clipPath id="bx1"><path d="M949.78,937.89 L950.49,933.75 L952.58,929.77 L955.98,926.1 L960.55,922.88 L1007.31,895.9 L1012.88,893.26 L1019.24,891.3 L1026.14,890.09 L1033.31,889.69 L1040.48,890.09 L1047.38,891.3 L1053.74,893.26 L1059.31,895.9 L1117.76,929.63 L1122.33,932.84 L1125.73,936.51 L1127.82,940.49 L1128.53,944.63 L1128.53,969.12 L1128.4,971.15 L1127.7,975.28 L1127.34,977.25 L1126.73,979.15 L1125.9,980.97 L1123.92,984.74 L1122.92,986.34 L1121.72,987.8 L1118.72,991.03 L1117.47,992.18 L1113.62,994.89 L1112.42,995.7 L1065.67,1022.68 L1061.24,1024.78 L1060.2,1025.25 L1055.47,1026.71 L1050.34,1027.6 L1049.94,1027.67 L1045,1027.95 L1040.06,1027.67 L1039.66,1027.6 L1034.53,1026.71 L1029.8,1025.25 L1028.76,1024.78 L1024.33,1022.68 L965.89,988.96 L964.69,988.14 L960.84,985.44 L959.59,984.29 L956.59,981.05 L955.39,979.59 L954.39,977.99 L952.41,974.23 L951.58,972.41 L950.97,970.5 L950.61,968.53 L949.91,964.41 L949.78,962.38 Z"/></clipPath>
<path d="M949.78,937.89 L950.49,933.75 L952.58,929.77 L955.98,926.1 L960.55,922.88 L1007.31,895.9 L1012.88,893.26 L1019.24,891.3 L1026.14,890.09 L1033.31,889.69 L1040.48,890.09 L1047.38,891.3 L1053.74,893.26 L1059.31,895.9 L1117.76,929.63 L1122.33,932.84 L1125.73,936.51 L1127.82,940.49 L1128.53,944.63 L1128.53,969.12 L1128.4,971.15 L1127.7,975.28 L1127.34,977.25 L1126.73,979.15 L1125.9,980.97 L1123.92,984.74 L1122.92,986.34 L1121.72,987.8 L1118.72,991.03 L1117.47,992.18 L1113.62,994.89 L1112.42,995.7 L1065.67,1022.68 L1061.24,1024.78 L1060.2,1025.25 L1055.47,1026.71 L1050.34,1027.6 L1049.94,1027.67 L1045,1027.95 L1040.06,1027.67 L1039.66,1027.6 L1034.53,1026.71 L1029.8,1025.25 L1028.76,1024.78 L1024.33,1022.68 L965.89,988.96 L964.69,988.14 L960.84,985.44 L959.59,984.29 L956.59,981.05 L955.39,979.59 L954.39,977.99 L952.41,974.23 L951.58,972.41 L950.97,970.5 L950.61,968.53 L949.91,964.41 L949.78,962.38 Z" class="ikf"/>
<path d="M1128.53,968.93 L1128.49,970.05 L1128.36,971.15 L1128.12,972.26 L1127.79,973.35 L1127.36,974.43 L1126.83,975.5 L1126.2,976.55 L1125.48,977.58 L1124.66,978.59 L1123.76,979.57 L1122.77,980.52 L1121.69,981.44 L1120.53,982.33 L1119.3,983.18 L1117.98,983.99 L1069.84,1011.74 L1068.39,1012.47 L1066.87,1013.16 L1065.3,1013.79 L1063.66,1014.38 L1061.98,1014.92 L1060.25,1015.41 L1058.48,1015.84 L1056.67,1016.22 L1054.83,1016.55 L1052.96,1016.82 L1051.07,1017.03 L1049.16,1017.18 L1047.24,1017.28 L1045.32,1017.32 L1043.4,1017.3 L1041.47,1017.22 L1039.56,1017.09 L1037.67,1016.89 L1035.79,1016.64 L1033.94,1016.34 L1032.12,1015.98 L1030.34,1015.56 L1028.59,1015.09 L1026.89,1014.57 L1025.24,1014 L1023.64,1013.38 L1022.11,1012.71 L1020.63,1011.99 L1019.22,1011.23 L959.44,976.71 L958.18,975.87 L957,975 L955.89,974.09 L954.87,973.15 L953.94,972.17 L953.09,971.18 L952.34,970.15 L951.68,969.11 L951.12,968.05 L950.65,966.97 L950.29,965.88 L950.02,964.78 L949.85,963.67 L949.78,962.56 M1071,986.62 L1071,1011.1 L1070.91,1013.09 L1070.65,1014.95 L1070.22,1016.67 L1069.62,1018.24 L1068.85,1019.63 L1067.93,1020.85 L1066.87,1021.87 L1065.67,1022.68 L1064.34,1023.28 L1062.91,1023.67 L1061.38,1023.83 L1059.76,1023.77 L1058.08,1023.48 L1056.34,1022.97 L1054.58,1022.25 L1052.79,1021.32 M1117.76,959.64 L1117.76,984.13 L1117.67,986.11 L1117.41,987.97 L1116.97,989.69 L1116.37,991.26 L1115.61,992.65 L1114.69,993.87 L1113.62,994.89 L1112.42,995.7 L1111.1,996.3 L1109.66,996.69 L1108.13,996.85 L1106.51,996.79 L1104.83,996.5 L1103.1,995.99 L1101.33,995.27 L1099.55,994.34 M960.55,952.89 L960.55,977.38 L960.64,979.36 L960.9,981.22 L961.34,982.94 L961.94,984.51 L962.7,985.91 L963.62,987.12 L964.69,988.14 L965.89,988.96 L967.21,989.56 L968.65,989.94 L970.18,990.1 L971.79,990.04 L973.48,989.75 L975.21,989.25 L976.98,988.53 L978.76,987.6 M1019,986.62 L1019,1011.1 L1019.08,1013.09 L1019.35,1014.95 L1019.78,1016.67 L1020.38,1018.24 L1021.15,1019.63 L1022.07,1020.85 L1023.13,1021.87 L1024.33,1022.68 L1025.65,1023.28 L1027.09,1023.67 L1028.62,1023.83 L1030.24,1023.77 L1031.92,1023.48 L1033.65,1022.97 L1035.42,1022.25 L1037.21,1021.32" class="g" clip-path="url(#bx1)"/>
<path d="M1243.54,732.9 L1244.47,732.49 L1245.55,732.23 L1246.71,732.14 L1247.87,732.23 L1248.96,732.49 L1249.89,732.9 L1392.86,815.4 L1393.58,815.94 L1394.02,816.56 L1394.18,817.24 L1394.02,817.91 L1393.58,818.53 L1392.86,819.07 L1052.45,1015.5 L1051.52,1015.91 L1050.44,1016.17 L1049.28,1016.26 L1048.11,1016.17 L1047.03,1015.91 L1046.1,1015.5 L903.13,933 L902.41,932.46 L901.96,931.84 L901.81,931.17 L901.96,930.49 L902.41,929.87 L903.13,929.33 Z" class="ikf"/>
<path d="M1245.82,731.73 L1246.41,731.5 L1247.09,731.42 L1247.78,731.5 L1248.36,731.73 L1390.79,813.91 L1391.18,814.25 L1391.31,814.64 L1391.18,815.04 L1390.79,815.38 L1050.63,1011.66 L1050.05,1011.89 L1049.36,1011.97 L1048.67,1011.89 L1048.09,1011.66 L905.67,929.48 L905.28,929.14 L905.14,928.75 L905.28,928.35 L905.67,928.01 Z" class="ikf"/>
<g transform="matrix(0.4235,-0.24438,0.4235,0.24438,678.46,884)" class="ns">
<path d="M200.4,376 H959.2 A18,18 0 0 1 977.2,394 V665.3 A18,18 0 0 1 959.2,683.3 H200.4 A18,18 0 0 1 182.4,665.3 V394 A18,18 0 0 1 200.4,376 Z" class="g"/>
</g>
<g transform="matrix(0.4235,-0.24438,0.4235,0.24438,678.46,885.47)" class="ns">
<path d="M200.6,376 V391.3 M182.4,394.3 H197.5 M200.3,668.2 V683.3 M182.4,664.8 H197.5 M958.5,376 V389.6 M963.5,394 H977.2 M958.5,668.7 V683.3 M963.5,665.2 H977.2" class="g"/>
</g>
<g transform="matrix(0.4235,-0.24438,0.4235,0.24438,678.46,886.93)" class="ns">
<path d="M402.8,391.2 L201,391.3 Q197.5,391.3 197.5,394.5 V664.5 Q197.5,668.2 201,668.2 L396.7,668.2 M508,668.3 L959,668.7 Q963.5,668.7 963.5,664.5 V394 Q963.5,389.6 959,389.6 L492,390.9" class="g"/>
<path d="M395.9,387 H508.7" class="g"/><path d="M395.9,387 C415,392 428,404 437,417 C443,425.5 448,427.3 452.8,427.3 C458,427.3 463,424.5 468,417 C478,402 492,391 508.7,387" class="tl"/>
<path d="M396.7,672 H508" class="g"/><path d="M396.7,672 C418,666 430,652 439,641 C444,635 448,632.4 452.6,632.4 C457,632.4 461,635 466,641 C475,652 487,666 508,672" class="tl"/>
<circle cx="452.6" cy="404.3" r="12.4" class="kt"/>
</g>
<g transform="matrix(0.4235,-0.24438,0.4235,0.24438,678.46,887.42)" class="ns">
<path d="M750,398.5 H942.5 A15,15 0 0 1 957.5,413.5 V644.7 A15,15 0 0 1 942.5,659.7 H750 A28.4,28.4 0 0 1 721.6,631.3 V426.9 A28.4,28.4 0 0 1 750,398.5 Z" class="g2"/>
<path d="M750,400.7 H942.5 A12.8,12.8 0 0 1 955.3,413.5 V644.7 A12.8,12.8 0 0 1 942.5,657.5 H750 A26.2,26.2 0 0 1 723.8,631.3 V426.9 A26.2,26.2 0 0 1 750,400.7 Z" class="gl"/>
<path d="M732.6,427.2 H946.5 A4,4 0 0 1 950.5,431.2 V439 A4,4 0 0 1 946.5,443 H732.6 A4,4 0 0 1 728.6,439 V431.2 A4,4 0 0 1 732.6,427.2 Z" class="g"/>
<path d="M732.6,449.8 H946.5 A4,4 0 0 1 950.5,453.8 V461.6 A4,4 0 0 1 946.5,465.6 H732.6 A4,4 0 0 1 728.6,461.6 V453.8 A4,4 0 0 1 732.6,449.8 Z" class="g"/>
<path d="M732.6,472.3 H946.5 A4,4 0 0 1 950.5,476.3 V484.1 A4,4 0 0 1 946.5,488.1 H732.6 A4,4 0 0 1 728.6,484.1 V476.3 A4,4 0 0 1 732.6,472.3 Z" class="g"/>
<path d="M732.6,494.7 H932.5 A4,4 0 0 1 936.5,498.7 V506.5 A4,4 0 0 1 932.5,510.5 H732.6 A4,4 0 0 1 728.6,506.5 V498.7 A4,4 0 0 1 732.6,494.7 Z" class="g"/>
<path d="M732.6,548.5 H932.5 A4,4 0 0 1 936.5,552.5 V560.3 A4,4 0 0 1 932.5,564.3 H732.6 A4,4 0 0 1 728.6,560.3 V552.5 A4,4 0 0 1 732.6,548.5 Z" class="g"/>
<path d="M732.6,571.3 H946.5 A4,4 0 0 1 950.5,575.3 V583.1 A4,4 0 0 1 946.5,587.1 H732.6 A4,4 0 0 1 728.6,583.1 V575.3 A4,4 0 0 1 732.6,571.3 Z" class="g"/>
<path d="M732.6,593.9 H946.5 A4,4 0 0 1 950.5,597.9 V605.7 A4,4 0 0 1 946.5,609.7 H732.6 A4,4 0 0 1 728.6,605.7 V597.9 A4,4 0 0 1 732.6,593.9 Z" class="g"/>
<path d="M732.6,616.4 H946.5 A4,4 0 0 1 950.5,620.4 V628.2 A4,4 0 0 1 946.5,632.2 H732.6 A4,4 0 0 1 728.6,628.2 V620.4 A4,4 0 0 1 732.6,616.4 Z" class="g"/>
</g>
<g transform="matrix(0.4235,-0.24438,0.4235,0.24438,678.46,888.89)" class="ns">
<path d="M733.5,430.3 H945.5 A1.5,1.5 0 0 1 947,431.8 V438.1 A1.5,1.5 0 0 1 945.5,439.6 H733.5 A1.5,1.5 0 0 1 732,438.1 V431.8 A1.5,1.5 0 0 1 733.5,430.3 Z" class="g"/>
<path d="M733.5,430.3 H945.5" class="rb"/>
<path d="M733.5,452.9 H945.5 A1.5,1.5 0 0 1 947,454.4 V460.7 A1.5,1.5 0 0 1 945.5,462.2 H733.5 A1.5,1.5 0 0 1 732,460.7 V454.4 A1.5,1.5 0 0 1 733.5,452.9 Z" class="g"/>
<path d="M733.5,452.9 H945.5" class="rb"/>
<path d="M733.5,475.4 H945.5 A1.5,1.5 0 0 1 947,476.9 V483.2 A1.5,1.5 0 0 1 945.5,484.7 H733.5 A1.5,1.5 0 0 1 732,483.2 V476.9 A1.5,1.5 0 0 1 733.5,475.4 Z" class="g"/>
<path d="M733.5,475.4 H945.5" class="rb"/>
<path d="M733.5,497.8 H931.5 A1.5,1.5 0 0 1 933,499.3 V505.6 A1.5,1.5 0 0 1 931.5,507.1 H733.5 A1.5,1.5 0 0 1 732,505.6 V499.3 A1.5,1.5 0 0 1 733.5,497.8 Z" class="g"/>
<path d="M733.5,497.8 H931.5" class="rb"/>
<path d="M733.5,551.6 H931.5 A1.5,1.5 0 0 1 933,553.1 V559.4 A1.5,1.5 0 0 1 931.5,560.9 H733.5 A1.5,1.5 0 0 1 732,559.4 V553.1 A1.5,1.5 0 0 1 733.5,551.6 Z" class="g"/>
<path d="M733.5,551.6 H931.5" class="rb"/>
<path d="M733.5,574.4 H945.5 A1.5,1.5 0 0 1 947,575.9 V582.2 A1.5,1.5 0 0 1 945.5,583.7 H733.5 A1.5,1.5 0 0 1 732,582.2 V575.9 A1.5,1.5 0 0 1 733.5,574.4 Z" class="g"/>
<path d="M733.5,574.4 H945.5" class="rb"/>
<path d="M733.5,597 H945.5 A1.5,1.5 0 0 1 947,598.5 V604.8 A1.5,1.5 0 0 1 945.5,606.3 H733.5 A1.5,1.5 0 0 1 732,604.8 V598.5 A1.5,1.5 0 0 1 733.5,597 Z" class="g"/>
<path d="M733.5,597 H945.5" class="rb"/>
<path d="M733.5,619.5 H945.5 A1.5,1.5 0 0 1 947,621 V627.3 A1.5,1.5 0 0 1 945.5,628.8 H733.5 A1.5,1.5 0 0 1 732,627.3 V621 A1.5,1.5 0 0 1 733.5,619.5 Z" class="g"/>
<path d="M733.5,619.5 H945.5" class="rb"/>
</g>
<clipPath id="bi0"><path d="M1115.47,828.31 L1118.39,826.78 L1121.55,825.43 L1124.93,824.26 L1128.49,823.29 L1132.2,822.52 L1136.02,821.97 L1139.91,821.64 L1143.84,821.52 L1147.78,821.64 L1151.67,821.97 L1155.49,822.52 L1159.2,823.29 L1162.76,824.26 L1166.14,825.43 L1169.3,826.78 L1172.22,828.31 L1230.66,862.03 L1233.31,863.71 L1235.65,865.54 L1237.68,867.49 L1239.36,869.54 L1240.69,871.68 L1241.64,873.89 L1242.22,876.13 L1242.41,878.4 L1242.22,880.67 L1241.64,882.92 L1240.69,885.13 L1239.36,887.27 L1237.68,889.32 L1235.65,891.27 L1233.31,893.09 L1230.66,894.78 L1183.91,921.76 L1180.99,923.28 L1177.83,924.64 L1174.45,925.8 L1170.89,926.78 L1167.18,927.54 L1163.36,928.09 L1159.47,928.43 L1155.53,928.54 L1151.6,928.43 L1147.7,928.09 L1143.88,927.54 L1140.18,926.78 L1136.62,925.8 L1133.24,924.64 L1130.08,923.28 L1127.16,921.76 L1068.72,888.03 L1066.07,886.35 L1063.72,884.52 L1061.7,882.57 L1060.02,880.52 L1058.69,878.38 L1057.73,876.18 L1057.16,873.93 L1056.96,871.66 L1057.16,869.39 L1057.73,867.14 L1058.69,864.94 L1060.02,862.8 L1061.7,860.74 L1063.72,858.79 L1066.07,856.97 L1068.72,855.29 Z"/></clipPath>
<path d="M1117.93,832.17 L1120.59,830.77 L1123.48,829.54 L1126.57,828.47 L1129.82,827.58 L1133.2,826.88 L1136.69,826.38 L1140.25,826.07 L1143.84,825.97 L1147.44,826.07 L1150.99,826.38 L1154.48,826.88 L1157.87,827.58 L1161.12,828.47 L1164.21,829.54 L1167.1,830.77 L1169.76,832.17 L1228.21,865.89 L1230.62,867.43 L1232.76,869.1 L1234.61,870.88 L1236.15,872.75 L1237.36,874.71 L1238.24,876.72 L1238.76,878.77 L1238.94,880.85 L1238.76,882.92 L1238.24,884.97 L1237.36,886.99 L1236.15,888.94 L1234.61,890.82 L1232.76,892.6 L1230.62,894.27 L1228.21,895.8 L1181.45,922.78 L1178.79,924.18 L1175.9,925.41 L1172.81,926.48 L1169.56,927.37 L1166.17,928.07 L1162.68,928.57 L1159.13,928.88 L1155.53,928.98 L1151.94,928.88 L1148.38,928.57 L1144.89,928.07 L1141.51,927.37 L1138.25,926.48 L1135.17,925.41 L1132.28,924.18 L1129.61,922.78 L1071.17,889.06 L1068.76,887.52 L1066.61,885.85 L1064.76,884.07 L1063.23,882.2 L1062.01,880.24 L1061.14,878.23 L1060.61,876.18 L1060.44,874.1 L1060.61,872.03 L1061.14,869.98 L1062.01,867.96 L1063.23,866.01 L1064.76,864.13 L1066.61,862.35 L1068.76,860.69 L1071.17,859.15 Z M1117.84,856.61 L1120.52,855.21 L1123.41,853.97 L1126.51,852.9 L1129.77,852.01 L1133.17,851.31 L1136.67,850.8 L1140.24,850.49 L1143.84,850.39 L1147.45,850.49 L1151.02,850.8 L1154.52,851.31 L1157.92,852.01 L1161.18,852.9 L1164.27,853.97 L1167.17,855.21 L1169.85,856.61 L1228.29,890.33 L1230.71,891.87 L1232.86,893.55 L1234.72,895.33 L1236.26,897.22 L1237.48,899.18 L1238.35,901.2 L1238.88,903.26 L1239.06,905.34 L1238.88,907.42 L1238.35,909.48 L1237.48,911.5 L1236.26,913.46 L1234.72,915.34 L1232.86,917.13 L1230.71,918.8 L1228.29,920.34 L1181.54,947.32 L1178.86,948.72 L1175.96,949.96 L1172.87,951.03 L1169.61,951.92 L1166.21,952.62 L1162.71,953.13 L1159.14,953.43 L1155.53,953.54 L1151.93,953.43 L1148.36,953.13 L1144.86,952.62 L1141.46,951.92 L1138.2,951.03 L1135.1,949.96 L1132.2,948.72 L1129.53,947.32 L1071.09,913.6 L1068.66,912.05 L1066.51,910.38 L1064.66,908.6 L1063.12,906.71 L1061.9,904.75 L1061.02,902.73 L1060.49,900.67 L1060.32,898.59 L1060.49,896.51 L1061.02,894.45 L1061.9,892.43 L1063.12,890.47 L1064.66,888.59 L1066.51,886.8 L1068.66,885.13 L1071.09,883.59 Z M1136.05,887.84 L1137.37,887.19 L1138.84,886.67 L1140.44,886.29 L1142.12,886.06 L1143.84,885.98 L1145.57,886.06 L1147.25,886.29 L1148.85,886.67 L1150.32,887.19 L1151.64,887.84 L1210.08,921.57 L1211.2,922.32 L1212.11,923.18 L1212.77,924.1 L1213.17,925.07 L1213.31,926.06 L1213.17,927.06 L1212.77,928.03 L1212.11,928.95 L1211.2,929.8 L1210.08,930.56 L1163.33,957.54 L1162.01,958.19 L1160.54,958.71 L1158.94,959.09 L1157.26,959.32 L1155.53,959.4 L1153.81,959.32 L1152.13,959.09 L1150.53,958.71 L1149.06,958.19 L1147.74,957.54 L1089.3,923.81 L1088.17,923.05 L1087.27,922.2 L1086.61,921.28 L1086.21,920.31 L1086.07,919.32 L1086.21,918.32 L1086.61,917.35 L1087.27,916.43 L1088.17,915.58 L1089.3,914.82 Z M1068.72,855.29 L1071.09,859.1 L1071.09,883.59 L1071.17,885.67 L1071.44,887.83 L1071.87,890.06 L1072.47,892.32 L1073.24,894.6 L1074.16,896.87 L1075.22,899.12 L1076.42,901.32 L1077.74,903.45 L1079.18,905.49 L1080.71,907.42 L1082.33,909.22 L1084.01,910.88 L1085.74,912.37 L1087.51,913.69 L1089.3,914.82 M1115.47,828.31 L1117.84,832.12 L1117.84,856.61 L1117.93,858.69 L1118.19,860.85 L1118.63,863.08 L1119.23,865.34 L1119.99,867.62 L1120.91,869.89 L1121.97,872.14 L1123.17,874.34 L1124.5,876.47 L1125.93,878.51 L1127.47,880.44 L1129.08,882.24 L1130.77,883.9 L1132.5,885.39 L1134.27,886.71 L1136.05,887.84 M1183.91,921.76 L1181.54,922.83 L1181.54,947.32 L1181.45,949.3 L1181.19,951.16 L1180.75,952.89 L1180.15,954.45 L1179.39,955.85 L1178.47,957.06 L1177.4,958.08 L1176.2,958.9 L1174.88,959.5 L1173.44,959.88 L1171.91,960.04 L1170.29,959.98 L1168.61,959.7 L1166.88,959.19 L1165.11,958.47 L1163.33,957.54 M1230.66,894.78 L1228.29,895.85 L1228.29,920.34 L1228.2,922.32 L1227.94,924.18 L1227.51,925.91 L1226.9,927.47 L1226.14,928.87 L1225.22,930.09 L1224.16,931.1 L1222.96,931.92 L1221.63,932.52 L1220.2,932.9 L1218.66,933.07 L1217.05,933 L1215.37,932.72 L1213.63,932.21 L1211.86,931.49 L1210.08,930.56 M1068.72,888.03 L1071.09,889.11 L1071.09,913.6 L1071.17,915.58 L1071.44,917.44 L1071.87,919.16 L1072.47,920.73 L1073.24,922.13 L1074.16,923.34 L1075.22,924.36 L1076.42,925.17 L1077.74,925.78 L1079.18,926.16 L1080.71,926.32 L1082.33,926.26 L1084.01,925.97 L1085.74,925.47 L1087.51,924.74 L1089.3,923.81 M1127.16,921.76 L1129.53,922.83 L1129.53,947.32 L1129.62,949.3 L1129.88,951.16 L1130.31,952.89 L1130.92,954.45 L1131.68,955.85 L1132.6,957.06 L1133.66,958.08 L1134.86,958.9 L1136.19,959.5 L1137.62,959.88 L1139.16,960.04 L1140.77,959.98 L1142.45,959.7 L1144.19,959.19 L1145.96,958.47 L1147.74,957.54 M1172.22,828.31 L1169.85,832.12 L1169.85,856.61 L1169.76,858.69 L1169.5,860.85 L1169.06,863.08 L1168.46,865.34 L1167.7,867.62 L1166.78,869.89 L1165.71,872.14 L1164.51,874.34 L1163.19,876.47 L1161.75,878.51 L1160.22,880.44 L1158.61,882.24 L1156.92,883.9 L1155.19,885.39 L1153.42,886.71 L1151.64,887.84 M1230.66,862.03 L1228.29,865.84 L1228.29,890.33 L1228.2,892.41 L1227.94,894.58 L1227.51,896.8 L1226.9,899.06 L1226.14,901.34 L1225.22,903.62 L1224.16,905.87 L1222.96,908.06 L1221.63,910.19 L1220.2,912.23 L1218.66,914.16 L1217.05,915.97 L1215.37,917.62 L1213.63,919.12 L1211.86,920.44 L1210.08,921.57" class="g" clip-path="url(#bi0)"/>
<g clip-path="url(#bi0)"><path d="M1154.05,920.17 L1155.8,921.29 L1157.34,922.51 L1158.64,923.82 L1159.71,925.2 L1160.51,926.63 L1161.06,928.11 L1161.33,929.61 L1161.33,931.12 L1161.06,932.62 L1160.51,934.09 L1159.71,935.53 L1158.64,936.91 L1157.34,938.21 L1155.8,939.43 L1154.05,940.55 L1152.11,941.56 L1149.99,942.45 L1147.73,943.2 L1145.34,943.82 L1142.85,944.28 L1140.3,944.6 L1137.7,944.76 L1135.08,944.76 L1132.48,944.6 L1129.93,944.28 L1127.44,943.82 L1125.05,943.2 L1122.79,942.45 L1120.67,941.56 L1118.73,940.55 L1116.98,939.43 L1115.44,938.21 L1114.14,936.91 L1113.07,935.53 L1112.27,934.09 L1111.72,932.62 L1111.45,931.12 L1111.45,929.61 L1111.72,928.11 L1112.27,926.63 L1113.07,925.2 L1114.14,923.82 L1115.44,922.51 L1116.98,921.29 L1118.73,920.17 L1120.67,919.16 L1122.79,918.28 L1125.05,917.52 L1127.44,916.91 L1129.93,916.44 L1132.48,916.13 L1135.08,915.97 L1137.7,915.97 L1140.3,916.13 L1142.85,916.44 L1145.34,916.91 L1147.73,917.52 L1149.99,918.28 L1152.11,919.16 L1154.05,920.17 Z" class="ik"/><path d="M1150.66,922.13 L1152.08,923.03 L1153.32,924.02 L1154.37,925.08 L1155.23,926.19 L1155.89,927.35 L1156.33,928.54 L1156.55,929.75 L1156.55,930.97 L1156.33,932.19 L1155.89,933.38 L1155.23,934.54 L1154.37,935.65 L1153.32,936.71 L1152.08,937.69 L1150.66,938.6 L1149.09,939.41 L1147.38,940.13 L1145.55,940.74 L1143.62,941.24 L1141.61,941.61 L1139.55,941.87 L1137.45,941.99 L1135.33,941.99 L1133.23,941.87 L1131.17,941.61 L1129.16,941.24 L1127.23,940.74 L1125.4,940.13 L1123.69,939.41 L1122.12,938.6 L1120.7,937.69 L1119.46,936.71 L1118.41,935.65 L1117.55,934.54 L1116.89,933.38 L1116.46,932.19 L1116.23,930.97 L1116.23,929.75 L1116.46,928.54 L1116.89,927.35 L1117.55,926.19 L1118.41,925.08 L1119.46,924.02 L1120.7,923.03 L1122.12,922.13 L1123.69,921.31 L1125.4,920.6 L1127.23,919.99 L1129.16,919.49 L1131.17,919.11 L1133.23,918.86 L1135.33,918.73 L1137.45,918.73 L1139.55,918.86 L1141.61,919.11 L1143.62,919.49 L1145.55,919.99 L1147.38,920.6 L1149.09,921.31 L1150.66,922.13 Z" class="gd"/></g>
<path d="M1115.47,828.31 L1118.39,826.78 L1121.55,825.43 L1124.93,824.26 L1128.49,823.29 L1132.2,822.52 L1136.02,821.97 L1139.91,821.64 L1143.84,821.52 L1147.78,821.64 L1151.67,821.97 L1155.49,822.52 L1159.2,823.29 L1162.76,824.26 L1166.14,825.43 L1169.3,826.78 L1172.22,828.31 L1230.66,862.03 L1233.31,863.71 L1235.65,865.54 L1237.68,867.49 L1239.36,869.54 L1240.69,871.68 L1241.64,873.89 L1242.22,876.13 L1242.41,878.4 L1242.22,880.67 L1241.64,882.92 L1240.69,885.13 L1239.36,887.27 L1237.68,889.32 L1235.65,891.27 L1233.31,893.09 L1230.66,894.78 L1183.91,921.76 L1180.99,923.28 L1177.83,924.64 L1174.45,925.8 L1170.89,926.78 L1167.18,927.54 L1163.36,928.09 L1159.47,928.43 L1155.53,928.54 L1151.6,928.43 L1147.7,928.09 L1143.88,927.54 L1140.18,926.78 L1136.62,925.8 L1133.24,924.64 L1130.08,923.28 L1127.16,921.76 L1068.72,888.03 L1066.07,886.35 L1063.72,884.52 L1061.7,882.57 L1060.02,880.52 L1058.69,878.38 L1057.73,876.18 L1057.16,873.93 L1056.96,871.66 L1057.16,869.39 L1057.73,867.14 L1058.69,864.94 L1060.02,862.8 L1061.7,860.74 L1063.72,858.79 L1066.07,856.97 L1068.72,855.29 Z" class="ik"/>
<clipPath id="bi1"><path d="M1004.94,892.09 L1007.85,890.56 L1011.02,889.21 L1014.39,888.04 L1017.95,887.07 L1021.66,886.3 L1025.48,885.75 L1029.38,885.42 L1033.31,885.31 L1037.24,885.42 L1041.14,885.75 L1044.96,886.3 L1048.67,887.07 L1052.23,888.04 L1055.6,889.21 L1058.77,890.56 L1061.69,892.09 L1120.13,925.81 L1122.77,927.5 L1125.12,929.32 L1127.14,931.27 L1128.83,933.33 L1130.15,935.47 L1131.11,937.67 L1131.69,939.92 L1131.88,942.19 L1131.69,944.46 L1131.11,946.7 L1130.15,948.91 L1128.83,951.05 L1127.14,953.1 L1125.12,955.05 L1122.77,956.88 L1120.13,958.56 L1073.37,985.54 L1070.46,987.07 L1067.29,988.42 L1063.92,989.59 L1060.36,990.56 L1056.65,991.33 L1052.83,991.88 L1048.93,992.21 L1045,992.32 L1041.07,992.21 L1037.17,991.88 L1033.35,991.33 L1029.64,990.56 L1026.08,989.59 L1022.71,988.42 L1019.54,987.07 L1016.62,985.54 L958.18,951.82 L955.54,950.13 L953.19,948.31 L951.17,946.36 L949.48,944.3 L948.16,942.16 L947.2,939.96 L946.62,937.71 L946.43,935.44 L946.62,933.17 L947.2,930.92 L948.16,928.72 L949.48,926.58 L951.17,924.53 L953.19,922.58 L955.54,920.75 L958.18,919.07 Z"/></clipPath>
<path d="M1007.39,895.95 L1010.06,894.56 L1012.95,893.32 L1016.03,892.25 L1019.28,891.37 L1022.67,890.67 L1026.16,890.16 L1029.72,889.86 L1033.31,889.76 L1036.9,889.86 L1040.46,890.16 L1043.95,890.67 L1047.34,891.37 L1050.59,892.25 L1053.67,893.32 L1056.56,894.56 L1059.23,895.95 L1117.67,929.68 L1120.09,931.21 L1122.23,932.88 L1124.08,934.66 L1125.62,936.54 L1126.83,938.49 L1127.7,940.5 L1128.23,942.56 L1128.41,944.63 L1128.23,946.7 L1127.7,948.76 L1126.83,950.77 L1125.62,952.73 L1124.08,954.6 L1122.23,956.38 L1120.09,958.05 L1117.67,959.59 L1070.92,986.57 L1068.25,987.96 L1065.36,989.2 L1062.28,990.26 L1059.03,991.15 L1055.64,991.85 L1052.15,992.36 L1048.59,992.66 L1045,992.76 L1041.41,992.66 L1037.85,992.36 L1034.36,991.85 L1030.97,991.15 L1027.72,990.26 L1024.64,989.2 L1021.75,987.96 L1019.08,986.57 L960.64,952.84 L958.22,951.3 L956.08,949.64 L954.23,947.86 L952.69,945.98 L951.48,944.03 L950.61,942.01 L950.08,939.96 L949.9,937.89 L950.08,935.81 L950.61,933.76 L951.48,931.75 L952.69,929.79 L954.23,927.92 L956.08,926.14 L958.22,924.47 L960.64,922.93 Z M1007.31,920.39 L1009.98,918.99 L1012.88,917.75 L1015.98,916.68 L1019.24,915.79 L1022.64,915.09 L1026.14,914.58 L1029.71,914.28 L1033.31,914.18 L1036.92,914.28 L1040.48,914.58 L1043.99,915.09 L1047.38,915.79 L1050.65,916.68 L1053.74,917.75 L1056.64,918.99 L1059.31,920.39 L1117.76,954.12 L1120.18,955.66 L1122.33,957.33 L1124.19,959.12 L1125.73,961 L1126.94,962.96 L1127.82,964.98 L1128.35,967.04 L1128.53,969.12 L1128.35,971.2 L1127.82,973.26 L1126.94,975.28 L1125.73,977.24 L1124.19,979.12 L1122.33,980.91 L1120.18,982.58 L1117.76,984.13 L1071,1011.1 L1068.33,1012.5 L1065.43,1013.74 L1062.33,1014.81 L1059.07,1015.7 L1055.67,1016.41 L1052.17,1016.91 L1048.6,1017.22 L1045,1017.32 L1041.39,1017.22 L1037.83,1016.91 L1034.32,1016.41 L1030.93,1015.7 L1027.66,1014.81 L1024.57,1013.74 L1021.67,1012.5 L1019,1011.1 L960.55,977.38 L958.13,975.84 L955.98,974.16 L954.12,972.38 L952.58,970.5 L951.37,968.54 L950.49,966.52 L949.96,964.46 L949.78,962.38 L949.96,960.3 L950.49,958.24 L951.37,956.22 L952.58,954.25 L954.12,952.37 L955.98,950.59 L958.13,948.91 L960.55,947.37 Z M1025.52,951.62 L1026.83,950.98 L1028.31,950.45 L1029.91,950.07 L1031.59,949.84 L1033.31,949.76 L1035.03,949.84 L1036.72,950.07 L1038.31,950.45 L1039.79,950.98 L1041.1,951.62 L1099.55,985.35 L1100.67,986.11 L1101.57,986.96 L1102.23,987.88 L1102.64,988.85 L1102.77,989.85 L1102.64,990.84 L1102.23,991.81 L1101.57,992.73 L1100.67,993.58 L1099.55,994.34 L1052.79,1021.32 L1051.48,1021.97 L1050,1022.49 L1048.4,1022.87 L1046.72,1023.11 L1045,1023.18 L1043.28,1023.11 L1041.59,1022.87 L1040,1022.49 L1038.52,1021.97 L1037.21,1021.32 L978.76,987.6 L977.64,986.84 L976.74,985.99 L976.08,985.07 L975.67,984.1 L975.54,983.1 L975.67,982.11 L976.08,981.14 L976.74,980.21 L977.64,979.36 L978.76,978.6 Z M958.18,919.07 L960.55,922.88 L960.55,947.37 L960.64,949.45 L960.9,951.62 L961.34,953.84 L961.94,956.1 L962.7,958.38 L963.62,960.66 L964.69,962.9 L965.89,965.1 L967.21,967.23 L968.65,969.27 L970.18,971.2 L971.79,973 L973.48,974.66 L975.21,976.16 L976.98,977.47 L978.76,978.6 M1004.94,892.09 L1007.31,895.9 L1007.31,920.39 L1007.4,922.47 L1007.66,924.64 L1008.09,926.86 L1008.69,929.12 L1009.46,931.4 L1010.38,933.68 L1011.44,935.92 L1012.64,938.12 L1013.97,940.25 L1015.4,942.29 L1016.93,944.22 L1018.55,946.03 L1020.23,947.68 L1021.97,949.18 L1023.73,950.49 L1025.52,951.62 M1073.37,985.54 L1071,986.62 L1071,1011.1 L1070.91,1013.09 L1070.65,1014.95 L1070.22,1016.67 L1069.62,1018.24 L1068.85,1019.63 L1067.93,1020.85 L1066.87,1021.87 L1065.67,1022.68 L1064.34,1023.28 L1062.91,1023.67 L1061.38,1023.83 L1059.76,1023.77 L1058.08,1023.48 L1056.34,1022.97 L1054.58,1022.25 L1052.79,1021.32 M1120.13,958.56 L1117.76,959.64 L1117.76,984.13 L1117.67,986.11 L1117.41,987.97 L1116.97,989.69 L1116.37,991.26 L1115.61,992.65 L1114.69,993.87 L1113.62,994.89 L1112.42,995.7 L1111.1,996.3 L1109.66,996.69 L1108.13,996.85 L1106.51,996.79 L1104.83,996.5 L1103.1,995.99 L1101.33,995.27 L1099.55,994.34 M958.18,951.82 L960.55,952.89 L960.55,977.38 L960.64,979.36 L960.9,981.22 L961.34,982.94 L961.94,984.51 L962.7,985.91 L963.62,987.12 L964.69,988.14 L965.89,988.96 L967.21,989.56 L968.65,989.94 L970.18,990.1 L971.79,990.04 L973.48,989.75 L975.21,989.25 L976.98,988.53 L978.76,987.6 M1016.62,985.54 L1019,986.62 L1019,1011.1 L1019.08,1013.09 L1019.35,1014.95 L1019.78,1016.67 L1020.38,1018.24 L1021.15,1019.63 L1022.07,1020.85 L1023.13,1021.87 L1024.33,1022.68 L1025.65,1023.28 L1027.09,1023.67 L1028.62,1023.83 L1030.24,1023.77 L1031.92,1023.48 L1033.65,1022.97 L1035.42,1022.25 L1037.21,1021.32 M1061.69,892.09 L1059.31,895.9 L1059.31,920.39 L1059.23,922.47 L1058.96,924.64 L1058.53,926.86 L1057.93,929.12 L1057.16,931.4 L1056.24,933.68 L1055.18,935.92 L1053.98,938.12 L1052.66,940.25 L1051.22,942.29 L1049.69,944.22 L1048.07,946.03 L1046.39,947.68 L1044.66,949.18 L1042.89,950.49 L1041.1,951.62 M1120.13,925.81 L1117.76,929.63 L1117.76,954.12 L1117.67,956.2 L1117.41,958.36 L1116.97,960.58 L1116.37,962.85 L1115.61,965.13 L1114.69,967.4 L1113.62,969.65 L1112.42,971.85 L1111.1,973.98 L1109.66,976.02 L1108.13,977.95 L1106.51,979.75 L1104.83,981.41 L1103.1,982.9 L1101.33,984.22 L1099.55,985.35" class="g" clip-path="url(#bi1)"/>
<g clip-path="url(#bi1)"><path d="M1069.94,968.71 L1071.69,969.83 L1073.23,971.05 L1074.54,972.35 L1075.6,973.73 L1076.41,975.17 L1076.95,976.64 L1077.22,978.14 L1077.22,979.65 L1076.95,981.15 L1076.41,982.63 L1075.6,984.06 L1074.54,985.44 L1073.23,986.75 L1071.69,987.97 L1069.94,989.09 L1068,990.1 L1065.89,990.98 L1063.62,991.74 L1061.23,992.35 L1058.75,992.82 L1056.19,993.13 L1053.59,993.29 L1050.98,993.29 L1048.38,993.13 L1045.82,992.82 L1043.33,992.35 L1040.95,991.74 L1038.68,990.98 L1036.57,990.1 L1034.62,989.09 L1032.87,987.97 L1031.34,986.75 L1030.03,985.44 L1028.97,984.06 L1028.16,982.63 L1027.62,981.15 L1027.34,979.65 L1027.34,978.14 L1027.62,976.64 L1028.16,975.17 L1028.97,973.73 L1030.03,972.35 L1031.34,971.05 L1032.87,969.83 L1034.62,968.71 L1036.57,967.7 L1038.68,966.81 L1040.95,966.06 L1043.33,965.44 L1045.82,964.98 L1048.38,964.66 L1050.98,964.5 L1053.59,964.5 L1056.19,964.66 L1058.75,964.98 L1061.23,965.44 L1063.62,966.06 L1065.89,966.81 L1068,967.7 L1069.94,968.71 Z" class="ik"/><path d="M1066.56,970.66 L1067.97,971.57 L1069.21,972.55 L1070.27,973.61 L1071.13,974.72 L1071.78,975.88 L1072.22,977.08 L1072.44,978.29 L1072.44,979.51 L1072.22,980.72 L1071.78,981.91 L1071.13,983.07 L1070.27,984.18 L1069.21,985.24 L1067.97,986.23 L1066.56,987.13 L1064.99,987.95 L1063.28,988.66 L1061.45,989.27 L1059.52,989.77 L1057.51,990.15 L1055.44,990.4 L1053.34,990.53 L1051.23,990.53 L1049.13,990.4 L1047.06,990.15 L1045.05,989.77 L1043.12,989.27 L1041.29,988.66 L1039.58,987.95 L1038.01,987.13 L1036.6,986.23 L1035.36,985.24 L1034.3,984.18 L1033.44,983.07 L1032.79,981.91 L1032.35,980.72 L1032.13,979.51 L1032.13,978.29 L1032.35,977.08 L1032.79,975.88 L1033.44,974.72 L1034.3,973.61 L1035.36,972.55 L1036.6,971.57 L1038.01,970.66 L1039.58,969.85 L1041.29,969.13 L1043.12,968.52 L1045.05,968.02 L1047.06,967.65 L1049.13,967.39 L1051.23,967.27 L1053.34,967.27 L1055.44,967.39 L1057.51,967.65 L1059.52,968.02 L1061.45,968.52 L1063.28,969.13 L1064.99,969.85 L1066.56,970.66 Z" class="gd"/></g>
<path d="M1004.94,892.09 L1007.85,890.56 L1011.02,889.21 L1014.39,888.04 L1017.95,887.07 L1021.66,886.3 L1025.48,885.75 L1029.38,885.42 L1033.31,885.31 L1037.24,885.42 L1041.14,885.75 L1044.96,886.3 L1048.67,887.07 L1052.23,888.04 L1055.6,889.21 L1058.77,890.56 L1061.69,892.09 L1120.13,925.81 L1122.77,927.5 L1125.12,929.32 L1127.14,931.27 L1128.83,933.33 L1130.15,935.47 L1131.11,937.67 L1131.69,939.92 L1131.88,942.19 L1131.69,944.46 L1131.11,946.7 L1130.15,948.91 L1128.83,951.05 L1127.14,953.1 L1125.12,955.05 L1122.77,956.88 L1120.13,958.56 L1073.37,985.54 L1070.46,987.07 L1067.29,988.42 L1063.92,989.59 L1060.36,990.56 L1056.65,991.33 L1052.83,991.88 L1048.93,992.21 L1045,992.32 L1041.07,992.21 L1037.17,991.88 L1033.35,991.33 L1029.64,990.56 L1026.08,989.59 L1022.71,988.42 L1019.54,987.07 L1016.62,985.54 L958.18,951.82 L955.54,950.13 L953.19,948.31 L951.17,946.36 L949.48,944.3 L948.16,942.16 L947.2,939.96 L946.62,937.71 L946.43,935.44 L946.62,933.17 L947.2,930.92 L948.16,928.72 L949.48,926.58 L951.17,924.53 L953.19,922.58 L955.54,920.75 L958.18,919.07 Z" class="ik"/>
</svg>
</body></html>
